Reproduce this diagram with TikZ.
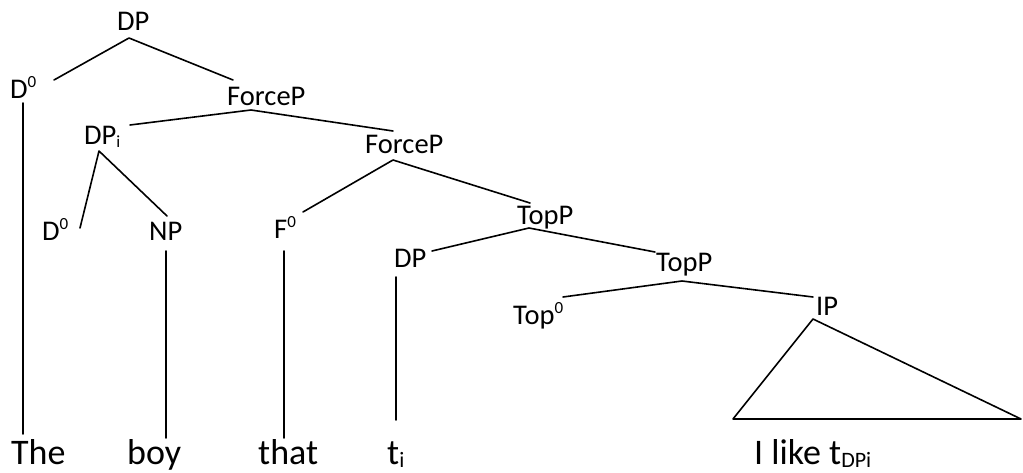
\documentclass[tikz,border=0pt]{standalone}
\usepackage{fontspec}
\setmainfont{Carlito}
\newcommand{\sups}[1]{\raisebox{11pt}{\fontsize{17}{19}\selectfont #1}}
\newcommand{\subs}[1]{\raisebox{-3pt}{\fontsize{17}{19}\selectfont #1}}
\newcommand{\wsubs}[1]{\raisebox{-3pt}{\fontsize{22}{24}\selectfont #1}}
\tikzset{
  lbl/.style={font=\fontsize{28.5}{31}\selectfont, inner sep=0pt, anchor=base west},
  word/.style={font=\fontsize{36}{40}\selectfont, inner sep=0pt, anchor=base west},
  br/.style={line width=1.6pt, line cap=round, line join=round}
}
\begin{document}
\begin{tikzpicture}[x=1pt,y=-1pt]
\useasboundingbox (0,0) rectangle (1023,473);
% labels
\node[lbl] (dp) at (117,31) {DP};
\node[lbl] (d0a) at (10,99) {D\sups{0}};
\node[lbl] (fp1) at (227,106) {ForceP};
\node[lbl] (dpi) at (84,145) {DP\subs{i}};
\node[lbl] (fp2) at (365,154) {ForceP};
\node[lbl] (d0b) at (42,241) {D\sups{0}};
\node[lbl] (np) at (149,241) {NP};
\node[lbl] (f0) at (274,239) {F\sups{0}};
\node[lbl] (tp1) at (517,225) {TopP};
\node[lbl] (dp2) at (394,267) {DP};
\node[lbl] (tp2) at (656,272) {TopP};
\node[lbl] (top0) at (513,324) {Top\sups{0}};
\node[lbl] (ip) at (816,315) {IP};
% words
\node[word] (the) at (11,464) {The};
\node[word] (boy) at (127,464) {boy};
\node[word] (that) at (258,464) {that};
\node[word] (ti) at (387,464) {t\wsubs{i}};
\node[word] (ilike) at (754,464) {I like t\wsubs{DPi}};
% connector end points
\coordinate (dp-b) at (129,38);
\coordinate (d0a-t) at (54,80);
\coordinate (fp1-t) at (233,80);
\coordinate (d0a-b) at (23,103);
\coordinate (the-t) at (23,434);
\coordinate (fp1-b) at (251,110);
\coordinate (dpi-t) at (130,125);
\coordinate (fp2-t) at (393,131);
\coordinate (dpi-b) at (99,151);
\coordinate (d0b-t) at (80,228);
\coordinate (np-t) at (167,216);
\coordinate (np-b) at (166,251);
\coordinate (boy-t) at (166,438);
\coordinate (fp2-b) at (393,160);
\coordinate (f0-t) at (303,212);
\coordinate (tp1-t) at (530,203);
\coordinate (f0-b) at (284,251);
\coordinate (that-t) at (284,438);
\coordinate (tp1-b) at (529,228);
\coordinate (dp2-t) at (432,251);
\coordinate (tp2-t) at (655,252);
\coordinate (dp2-b) at (396,277);
\coordinate (ti-t) at (396,420);
\coordinate (tp2-b) at (682,281);
\coordinate (top0-t) at (563,297);
\coordinate (ip-t) at (813,297);
\coordinate (ip-b) at (813,319);
\coordinate (tri-l) at (733,419);
\coordinate (tri-r) at (1021,419);
% branches
\draw[br] (d0a-t) -- (dp-b) -- (fp1-t);
\draw[br] (d0a-b) -- (the-t);
\draw[br] (dpi-t) -- (fp1-b) -- (fp2-t);
\draw[br] (d0b-t) -- (dpi-b) -- (np-t);
\draw[br] (np-b) -- (boy-t);
\draw[br] (f0-t) -- (fp2-b) -- (tp1-t);
\draw[br] (f0-b) -- (that-t);
\draw[br] (dp2-t) -- (tp1-b) -- (tp2-t);
\draw[br] (dp2-b) -- (ti-t);
\draw[br] (top0-t) -- (tp2-b) -- (ip-t);
\draw[br] (ip-b) -- (tri-l) -- (tri-r) -- cycle;
\end{tikzpicture}
\end{document}
